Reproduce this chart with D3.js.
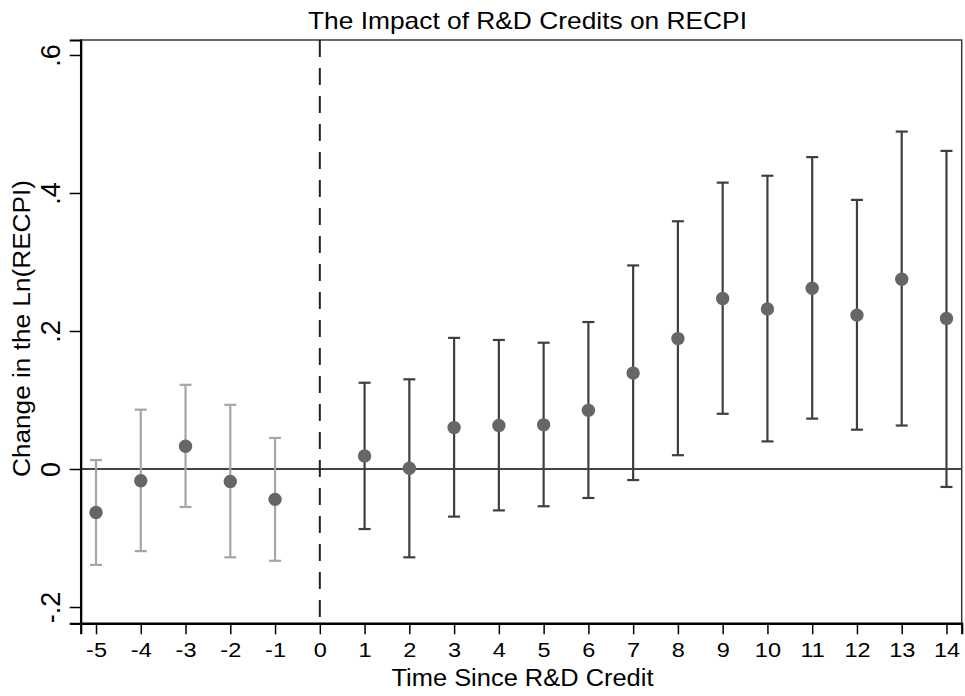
<!DOCTYPE html>
<html>
<head>
<meta charset="utf-8">
<script src="https://cdn.jsdelivr.net/npm/d3@7"></script>
<style>
  html, body { margin: 0; padding: 0; background: #fff; }
  svg { display: block; }
  text { font-family: "Liberation Sans", Arial, Helvetica, sans-serif; fill: #000; }
</style>
</head>
<body>
<svg id="chart" width="965" height="696"></svg>
<script>
const periods = [-5, -4, -3, -2, -1, 1, 2, 3, 4, 5, 6, 7, 8, 9, 10, 11, 12, 13, 14];
const coef    = [-0.063, -0.017, 0.033, -0.018, -0.044, 0.019, 0.001, 0.060, 0.063, 0.064, 0.085, 0.139, 0.189, 0.247, 0.232, 0.262, 0.223, 0.275, 0.218];
const upper   = [0.013, 0.086, 0.122, 0.093, 0.045, 0.125, 0.130, 0.190, 0.187, 0.183, 0.213, 0.295, 0.359, 0.415, 0.425, 0.452, 0.390, 0.489, 0.461];
const lower   = [-0.139, -0.119, -0.055, -0.128, -0.133, -0.087, -0.128, -0.069, -0.060, -0.054, -0.042, -0.016, 0.020, 0.080, 0.040, 0.073, 0.057, 0.063, -0.026];
const xTicks  = [-5, -4, -3, -2, -1, 0, 1, 2, 3, 4, 5, 6, 7, 8, 9, 10, 11, 12, 13, 14];
const yTicks  = [-0.2, 0, 0.2, 0.4, 0.6];
const yTickLabels = ["-.2", "0", ".2", ".4", ".6"];

const data = periods.map((p, i) => ({ p, c: coef[i], lo: lower[i], hi: upper[i] }));

const svg = d3.select("#chart");
const mLeft = 80.7, mRight = 961.7, mTop = 40, mBottom = 623.3;

const x = d3.scaleLinear().domain([-5.342, 14.34]).range([mLeft, mRight]);
const y = d3.scaleLinear().domain([-0.2236, 0.6217]).range([mBottom, mTop]);

// frame
svg.append("rect")
  .attr("x", mLeft).attr("y", mTop)
  .attr("width", mRight - mLeft).attr("height", mBottom - mTop)
  .attr("fill", "none").attr("stroke", "#3a3a3a").attr("stroke-width", 1.5);

// zero line
svg.append("line")
  .attr("x1", mLeft).attr("x2", mRight)
  .attr("y1", y(0)).attr("y2", y(0))
  .attr("stroke", "#444").attr("stroke-width", 2.2);

// dashed vertical at 0
svg.append("line")
  .attr("x1", x(0)).attr("x2", x(0))
  .attr("y1", mTop).attr("y2", mBottom)
  .attr("stroke", "#222").attr("stroke-width", 2)
  .attr("stroke-dasharray", "17,11");

// axes
const xAxis = d3.axisBottom(x).tickValues(xTicks).tickSize(11).tickPadding(8).tickFormat(d3.format("d"));
const gx = svg.append("g").attr("transform", `translate(0,${mBottom})`).call(xAxis);
gx.select(".domain").attr("stroke", "#000").attr("stroke-width", 2.2);
gx.selectAll(".tick line").attr("stroke", "#000").attr("stroke-width", 1.5);
gx.selectAll(".tick text").attr("font-size", 21).attr("font-family", "Liberation Sans, Arial, sans-serif").attr("fill", "#000")
  .attr("transform", "scale(1.12,1)")
  .text(d => d < 0 ? "-" + Math.abs(d) : String(d));

const yAxis = d3.axisLeft(y).tickValues(yTicks).tickSize(11).tickFormat((d, i) => yTickLabels[i]);
const gy = svg.append("g").attr("transform", `translate(${mLeft},0)`).call(yAxis);
gy.select(".domain").attr("stroke", "#000").attr("stroke-width", 2.2);
gy.selectAll(".tick line").attr("stroke", "#000").attr("stroke-width", 1.5);
gy.selectAll(".tick text")
  .attr("font-size", 27).attr("font-family", "Liberation Sans, Arial, sans-serif").attr("fill", "#000")
  .attr("x", null).attr("dy", null)
  .attr("text-anchor", "middle")
  .attr("transform", "translate(-20.5,0) rotate(-90)")
  .attr("y", 0);

// error bars
const capHalf = 6;
const bars = svg.append("g").selectAll("g").data(data).join("g")
  .attr("stroke", d => d.p < 0 ? "#a6a6a6" : "#3f3f3f")
  .attr("stroke-width", 2.2);
bars.append("line")
  .attr("x1", d => x(d.p)).attr("x2", d => x(d.p))
  .attr("y1", d => y(d.lo)).attr("y2", d => y(d.hi));
bars.append("line")
  .attr("x1", d => x(d.p) - capHalf).attr("x2", d => x(d.p) + capHalf)
  .attr("y1", d => y(d.hi)).attr("y2", d => y(d.hi));
bars.append("line")
  .attr("x1", d => x(d.p) - capHalf).attr("x2", d => x(d.p) + capHalf)
  .attr("y1", d => y(d.lo)).attr("y2", d => y(d.lo));

// points
svg.append("g").selectAll("circle").data(data).join("circle")
  .attr("cx", d => x(d.p)).attr("cy", d => y(d.c))
  .attr("r", 6.7).attr("fill", "#666666");

// titles
svg.append("text")
  .attr("x", 527.5).attr("y", 29)
  .attr("text-anchor", "middle").attr("font-size", 24)
  .attr("textLength", 439).attr("lengthAdjust", "spacingAndGlyphs")
  .text("The Impact of R&D Credits on RECPI");

svg.append("text")
  .attr("x", 522.5).attr("y", 686)
  .attr("text-anchor", "middle").attr("font-size", 23.5)
  .attr("textLength", 262).attr("lengthAdjust", "spacingAndGlyphs")
  .text("Time Since R&D Credit");

svg.append("text")
  .attr("transform", "translate(29.5,328.5) rotate(-90)")
  .attr("text-anchor", "middle").attr("font-size", 23.5)
  .attr("textLength", 297).attr("lengthAdjust", "spacingAndGlyphs")
  .text("Change in the Ln(RECPI)");
</script>
</body>
</html>
